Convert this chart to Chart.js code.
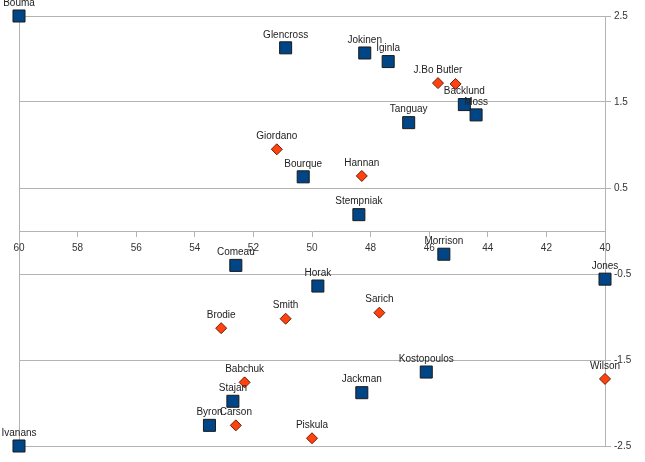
<!DOCTYPE html>
<html>
<head>
<meta charset="utf-8">
<script src="https://cdn.jsdelivr.net/npm/chart.js@4"></script>
<style>
  html, body { margin: 0; padding: 0; background: #fff; }
  #wrap { width: 645px; height: 462px; }
</style>
</head>
<body>
<div id="wrap"><canvas id="chart"></canvas></div>
<script>
// series 1 (blue squares)
const blueNames = ['Bouma','Glencross','Jokinen','Iginla','Backlund','Moss','Tanguay','Bourque','Stempniak',
  'Comeau','Horak','Morrison','Jones','Kostopoulos','Jackman','Stajan','Byron','Ivanans'];
const blueX = [60, 50.9, 48.2, 47.4, 44.8, 44.4, 46.7, 50.3, 48.4,
  52.6, 49.8, 45.5, 40, 46.1, 48.3, 52.7, 53.5, 60];
const blueY = [2.5, 2.13, 2.07, 1.97, 1.47, 1.35, 1.26, 0.63, 0.19,
  -0.4, -0.64, -0.27, -0.56, -1.64, -1.88, -1.98, -2.26, -2.5];

// series 2 (orange diamonds)
const orangeNames = ['J.Bo Butler','','Giordano','Hannan','Brodie','Smith','Sarich','Wilson','Babchuk','Carson','Piskula'];
const orangeX = [45.7, 45.1, 51.2, 48.3, 53.1, 50.9, 47.7, 40, 52.3, 52.6, 50.0];
const orangeY = [1.72, 1.71, 0.95, 0.64, -1.13, -1.02, -0.95, -1.72, -1.76, -2.26, -2.41];

const xMin = 40, xMax = 60, xStep = 2;
const yMin = -2.5, yMax = 2.5, yStep = 1;

const gridColor = '#b3b3b3';

function toPoints(xs, ys, names) {
  return xs.map((x, i) => ({ x: x, y: ys[i], name: names[i] }));
}

const pointLabels = {
  id: 'pointLabels',
  afterDatasetsDraw(chart) {
    const ctx = chart.ctx;
    ctx.save();
    ctx.font = '10px "Liberation Sans", Arial, sans-serif';
    ctx.fillStyle = '#222';
    ctx.textAlign = 'center';
    ctx.textBaseline = 'middle';
    chart.data.datasets.forEach((ds, di) => {
      chart.getDatasetMeta(di).data.forEach((pt, i) => {
        const name = ds.data[i].name;
        if (name) ctx.fillText(name, pt.x, pt.y - 13);
      });
    });
    ctx.restore();
  }
};

new Chart(document.getElementById('chart'), {
  type: 'scatter',
  data: {
    datasets: [
      {
        label: 'Series 1',
        data: toPoints(blueX, blueY, blueNames),
        clip: false,
        pointStyle: 'rect',
        pointRadius: 8.5,
        pointHoverRadius: 8.5,
        backgroundColor: '#004586',
        borderColor: '#1a1a1a',
        borderWidth: 1
      },
      {
        label: 'Series 2',
        data: toPoints(orangeX, orangeY, orangeNames),
        clip: false,
        pointStyle: 'rectRot',
        pointRadius: 5.5,
        pointHoverRadius: 5.5,
        backgroundColor: '#ff420e',
        borderColor: '#6a1e08',
        borderWidth: 1
      }
    ]
  },
  options: {
    responsive: true,
    maintainAspectRatio: false,
    animation: false,
    layout: { padding: { left: 19, top: 16, bottom: 16, right: 0 } },
    plugins: { legend: { display: false }, tooltip: { enabled: false } },
    scales: {
      x: {
        type: 'linear',
        position: { y: 0 },
        reverse: true,
        min: xMin,
        max: xMax,
        ticks: {
          stepSize: xStep,
          padding: 6,
          color: '#333',
          font: { family: '"Liberation Sans", Arial, sans-serif', size: 10 }
        },
        grid: {
          color: ctx => (ctx.tick && (ctx.tick.value === xMin || ctx.tick.value === xMax)) ? gridColor : 'rgba(0,0,0,0)',
          tickColor: gridColor,
          tickLength: 5,
          lineWidth: 1
        },
        border: { display: true, color: gridColor }
      },
      y: {
        type: 'linear',
        position: 'right',
        min: yMin,
        max: yMax,
        afterFit: scale => { scale.width = 40; },
        afterBuildTicks: scale => {
          const t = [];
          for (let v = yMin; v <= yMax + 1e-9; v += yStep) t.push({ value: Math.round(v * 10) / 10 });
          scale.ticks = t;
        },
        ticks: {
          padding: 3,
          color: '#333',
          font: { family: '"Liberation Sans", Arial, sans-serif', size: 10 }
        },
        grid: { color: gridColor, tickColor: gridColor, tickLength: 6 },
        border: { display: true, color: gridColor }
      }
    }
  },
  plugins: [pointLabels]
});
</script>
</body>
</html>
